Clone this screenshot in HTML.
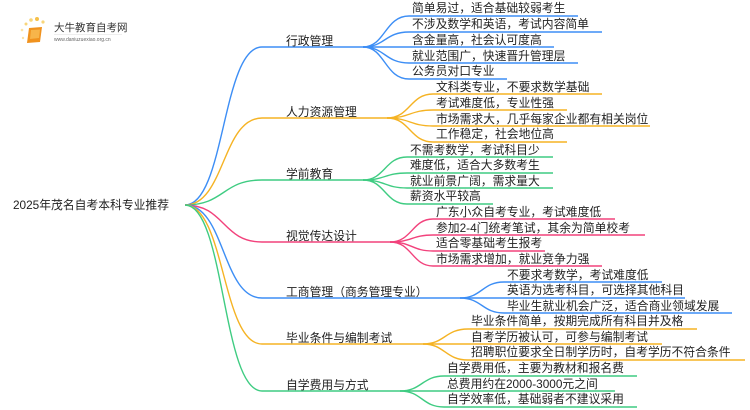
<!DOCTYPE html>
<html><head><meta charset="utf-8"><style>
html,body{margin:0;padding:0;background:#fff;width:750px;height:410px;overflow:hidden}
svg text{font-family:"Liberation Sans","Noto Sans CJK SC",sans-serif;fill:#222}
</style></head><body>
<svg width="750" height="410" viewBox="0 0 750 410" xmlns="http://www.w3.org/2000/svg">
<g>
 <circle cx="26" cy="24" r="1.5" fill="#f8d57a"/><circle cx="31" cy="20" r="1.8" fill="#f8d57a"/><circle cx="37" cy="19" r="2" fill="#f6c04a"/><circle cx="43" cy="22" r="1.6" fill="#f8d57a"/><circle cx="22" cy="30" r="1.3" fill="#fbe3a8"/><circle cx="23" cy="38" r="1.2" fill="#fbe3a8"/>
 <path d="M29 28 L42 27 L40 42 L27 43 Z" fill="#f0921e"/><path d="M31 30 L40 29.5 L39 38 L30 39 Z" fill="#f7b54a"/>
 <text x="54" y="31" font-size="10.5" style="fill:#333">大牛教育自考网</text>
 <line x1="54" y1="34.5" x2="122" y2="34.5" stroke="#ddd" stroke-width="0.6"/>
 <text x="54" y="41" font-size="5" style="fill:#666">www.daniuzuexiao.org.cn</text>
</g>
<text x="13" y="209" font-size="11.8">2025年茂名自考本科专业推荐</text>
<g fill="none" stroke-width="1.4">
 <g stroke="#3d8ef5">
  <path d="M185 205 C225 205 222 47 262 47 L363 47"/>
  <path d="M363 47 C385 47 385 16 409 16 L578 16"/>
  <path d="M363 47 C385 47 385 32 409 32 L602 32"/>
  <path d="M363 47 L554 47"/>
  <path d="M363 47 C385 47 385 63 409 63 L578 63"/>
  <path d="M363 47 C385 47 385 79 409 79 L507 79"/>
 </g>
 <g stroke="#f5b324">
  <path d="M185 205 C225 205 222 118 262 118 L387 118"/>
  <path d="M387 118 C410 118 410 94 433 94 L602 94"/>
  <path d="M387 118 C410 118 410 110 433 110 L567 110"/>
  <path d="M387 118 C410 118 410 126 433 126 L650 126"/>
  <path d="M387 118 C410 118 410 142 433 142 L567 142"/>
 </g>
 <g stroke="#3fcc82">
  <path d="M185 205 C225 205 222 180 262 180 L363 180"/>
  <path d="M363 180 C385 180 385 157 407 157 L553 157"/>
  <path d="M363 180 C385 180 385 173 407 173 L553 173"/>
  <path d="M363 180 C385 180 385 188 407 188 L553 188"/>
  <path d="M363 180 C385 180 385 204 407 204 L493 204"/>
 </g>
 <g stroke="#f2427c">
  <path d="M185 205 C225 205 222 242 262 242 L390 242"/>
  <path d="M390 242 C412 242 412 219 433 219 L615 219"/>
  <path d="M390 242 C412 242 412 235 433 235 L645 235"/>
  <path d="M390 242 C412 242 412 251 433 251 L545 251"/>
  <path d="M390 242 C412 242 412 266 433 266 L602 266"/>
 </g>
 <g stroke="#3d8ef5">
  <path d="M185 205 C225 205 222 298 262 298 L460 298"/>
  <path d="M460 298 C482 298 482 282 504 282 L662 282"/>
  <path d="M460 298 L685 298"/>
  <path d="M460 298 C482 298 482 313 504 313 L732 313"/>
 </g>
 <g stroke="#f5b324">
  <path d="M185 205 C225 205 222 344 262 344 L423 344"/>
  <path d="M423 344 C445 344 445 329 468 329 L697 329"/>
  <path d="M423 344 L662 344"/>
  <path d="M423 344 C445 344 445 360 468 360 L745 360"/>
 </g>
 <g stroke="#3fcc82">
  <path d="M185 205 C225 205 222 391 262 391 L400 391"/>
  <path d="M400 391 C422 391 422 376 444 376 L637 376"/>
  <path d="M400 391 L615 391"/>
  <path d="M400 391 C422 391 422 407 444 407 L637 407"/>
 </g>
</g>
<g font-size="11.8">
 <text x="286" y="45">行政管理</text>
 <text x="286" y="116">人力资源管理</text>
 <text x="286" y="178">学前教育</text>
 <text x="286" y="240">视觉传达设计</text>
 <text x="286" y="296">工商管理（商务管理专业）</text>
 <text x="286" y="342">毕业条件与编制考试</text>
 <text x="286" y="389">自学费用与方式</text>

 <text x="412" y="12">简单易过，适合基础较弱考生</text>
 <text x="412" y="28">不涉及数学和英语，考试内容简单</text>
 <text x="412" y="44">含金量高，社会认可度高</text>
 <text x="412" y="60">就业范围广，快速晋升管理层</text>
 <text x="412" y="75">公务员对口专业</text>

 <text x="436" y="91">文科类专业，不要求数学基础</text>
 <text x="436" y="107">考试难度低，专业性强</text>
 <text x="436" y="123">市场需求大，几乎每家企业都有相关岗位</text>
 <text x="436" y="138">工作稳定，社会地位高</text>

 <text x="410" y="154">不需考数学，考试科目少</text>
 <text x="410" y="169">难度低，适合大多数考生</text>
 <text x="410" y="185">就业前景广阔，需求量大</text>
 <text x="410" y="200">薪资水平较高</text>

 <text x="436" y="216">广东小众自考专业，考试难度低</text>
 <text x="436" y="232">参加2-4门统考笔试，其余为简单校考</text>
 <text x="436" y="247">适合零基础考生报考</text>
 <text x="436" y="263">市场需求增加，就业竞争力强</text>

 <text x="507" y="279">不要求考数学，考试难度低</text>
 <text x="507" y="294">英语为选考科目，可选择其他科目</text>
 <text x="507" y="310">毕业生就业机会广泛，适合商业领域发展</text>

 <text x="471" y="325">毕业条件简单，按期完成所有科目并及格</text>
 <text x="471" y="341">自考学历被认可，可参与编制考试</text>
 <text x="471" y="356">招聘职位要求全日制学历时，自考学历不符合条件</text>

 <text x="447" y="372">自学费用低，主要为教材和报名费</text>
 <text x="447" y="388">总费用约在2000-3000元之间</text>
 <text x="447" y="403">自学效率低，基础弱者不建议采用</text>
</g>
</svg>
</body></html>
